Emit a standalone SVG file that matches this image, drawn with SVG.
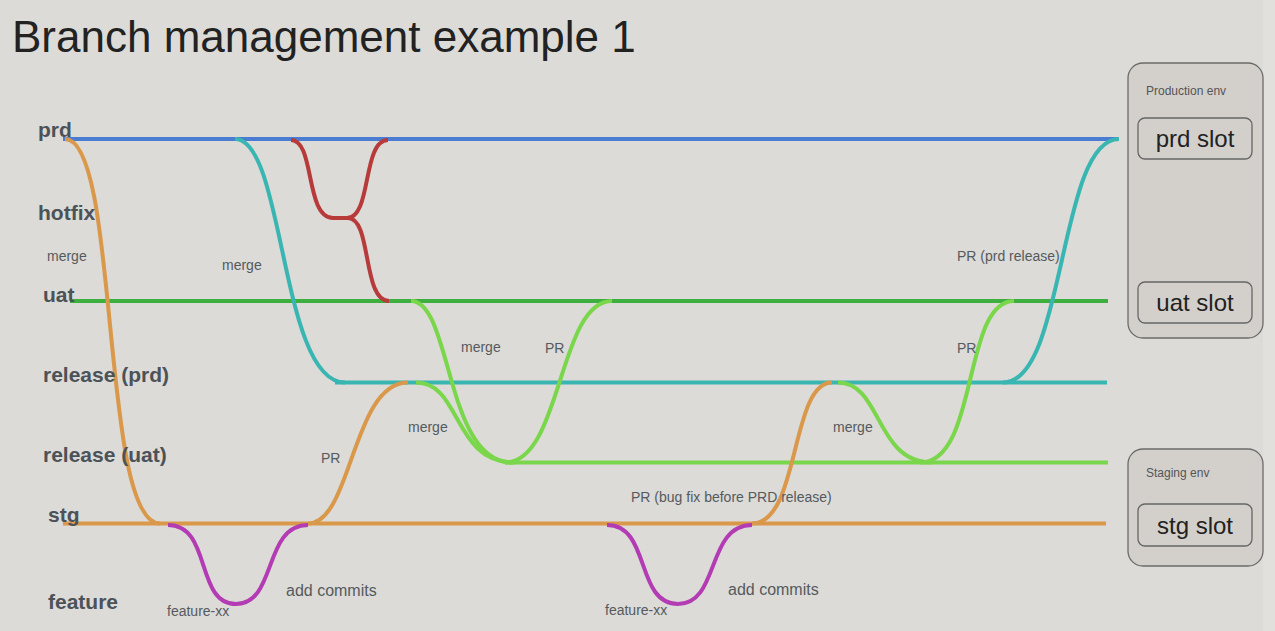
<svg xmlns="http://www.w3.org/2000/svg" width="1275" height="631" viewBox="0 0 1275 631">
<style>
.bl{font-family:"Liberation Sans",Arial,sans-serif;font-weight:bold;font-size:21px;fill:#4b5258}
.sm{font-family:"Liberation Sans",Arial,sans-serif;font-size:14px;fill:#555a5e}
.md{font-family:"Liberation Sans",Arial,sans-serif;font-size:16px;fill:#555a5e}
.ln{fill:none;stroke-width:4;stroke-linecap:butt}
.env{fill:#d3d0cb;stroke:#6b6b6b;stroke-width:1.3}
.slot{fill:#d3d0cb;stroke:#666;stroke-width:1.3}
.slt{font-family:"Liberation Sans",Arial,sans-serif;font-size:24px;fill:#222;text-anchor:middle}
.ent{font-family:"Liberation Sans",Arial,sans-serif;font-size:12px;fill:#555}
</style>
<rect width="1275" height="631" fill="#dcdbd7"/>
<rect x="1263" y="0" width="12" height="631" fill="#e1e0dd"/>
<text x="12" y="52" font-family="'Liberation Sans',Arial,sans-serif" font-size="44" fill="#222">Branch management example 1</text>

<g id="branch-lines">
<line id="prd" class="ln" x1="63" y1="139" x2="1118" y2="139" stroke="#4a7cd2"/>
<line id="uat" class="ln" x1="70" y1="301" x2="1108" y2="301" stroke="#3daf3f"/>
<line id="release-prd" class="ln" x1="335" y1="382.5" x2="1107" y2="382.5" stroke="#3ab6b2"/>
<line id="release-uat" class="ln" x1="505" y1="462.5" x2="1108" y2="462.5" stroke="#7ad64a"/>
<line id="stg" class="ln" x1="63" y1="523.5" x2="1106" y2="523.5" stroke="#d9984a"/>
</g>

<g id="connectors">
<path class="ln" stroke="#d9984a" d="M65,139 C120,139 100,523.5 160,523.5"/>
<path class="ln" stroke="#3ab6b2" d="M235,139 C285,139 280,382.5 345,382.5"/>
<path class="ln" stroke="#b83b3b" d="M291,140 C315,140 305,218 333,218 L349,218"/>
<path class="ln" stroke="#b83b3b" d="M388,140 C362,140 372,218 347,218"/>
<path class="ln" stroke="#b83b3b" d="M348,218 C372,218 362,301 389,301"/>
<path class="ln" stroke="#7ad64a" d="M411,301 C452,301 445,462.5 512,462.5"/>
<path class="ln" stroke="#7ad64a" d="M505,462.5 C562,462.5 558,301 612,301"/>
<path class="ln" stroke="#7ad64a" d="M416,382.5 C462,382.5 452,462.5 515,462.5"/>
<path class="ln" stroke="#d9984a" d="M308,523.5 C352,523.5 352,382.5 408,382.5"/>
<path class="ln" stroke="#b33bb3" d="M168,525 C212,525 195,604 236,604 C277,604 263,525 308,525"/>
<path class="ln" stroke="#b33bb3" d="M607,525 C651,525 635,604 678,604 C720,604 706,525 752,525"/>
<path class="ln" stroke="#d9984a" d="M752,523.5 C800,523.5 790,382.5 832,382.5"/>
<path class="ln" stroke="#7ad64a" d="M838,382.5 C882,382.5 875,462.5 932,462.5"/>
<path class="ln" stroke="#7ad64a" d="M920,462.5 C979,462.5 962,301 1014,301"/>
<path class="ln" stroke="#3ab6b2" d="M1003,382.5 C1066,382.5 1058,139 1119,139"/>
</g>

<g id="branch-labels">
<text class="bl" x="38" y="137">prd</text>
<text class="bl" x="38" y="220">hotfix</text>
<text class="bl" x="43" y="302">uat</text>
<text class="bl" x="43" y="382">release (prd)</text>
<text class="bl" x="43" y="462">release (uat)</text>
<text class="bl" x="48" y="522">stg</text>
<text class="bl" x="48" y="609">feature</text>
</g>

<g id="connector-labels">
<text class="sm" x="47" y="261">merge</text>
<text class="sm" x="222" y="270">merge</text>
<text class="sm" x="461" y="352">merge</text>
<text class="sm" x="545" y="353">PR</text>
<text class="sm" x="408" y="432">merge</text>
<text class="sm" x="321" y="463">PR</text>
<text class="sm" x="631" y="502">PR (bug fix before PRD release)</text>
<text class="md" x="286" y="596">add commits</text>
<text class="sm" x="167" y="616">feature-xx</text>
<text class="md" x="728" y="595">add commits</text>
<text class="sm" x="605" y="615">feature-xx</text>
<text class="sm" x="833" y="432">merge</text>
<text class="sm" x="957" y="353">PR</text>
<text class="sm" x="957" y="261">PR (prd release)</text>
</g>

<g id="production-env">
<rect class="env" x="1128" y="63" width="135" height="275" rx="15"/>
<text class="ent" x="1146" y="95">Production env</text>
</g>
<g id="prd-slot">
<rect class="slot" x="1138" y="118" width="114" height="41" rx="7"/>
<text class="slt" x="1195" y="147">prd slot</text>
</g>
<g id="uat-slot">
<rect class="slot" x="1138" y="282" width="114" height="41" rx="7"/>
<text class="slt" x="1195" y="311">uat slot</text>
</g>
<g id="staging-env">
<rect class="env" x="1128" y="449" width="135" height="117" rx="15"/>
<text class="ent" x="1146" y="477">Staging env</text>
</g>
<g id="stg-slot">
<rect class="slot" x="1138" y="504" width="114" height="42" rx="7"/>
<text class="slt" x="1195" y="534">stg slot</text>
</g>
</svg>
